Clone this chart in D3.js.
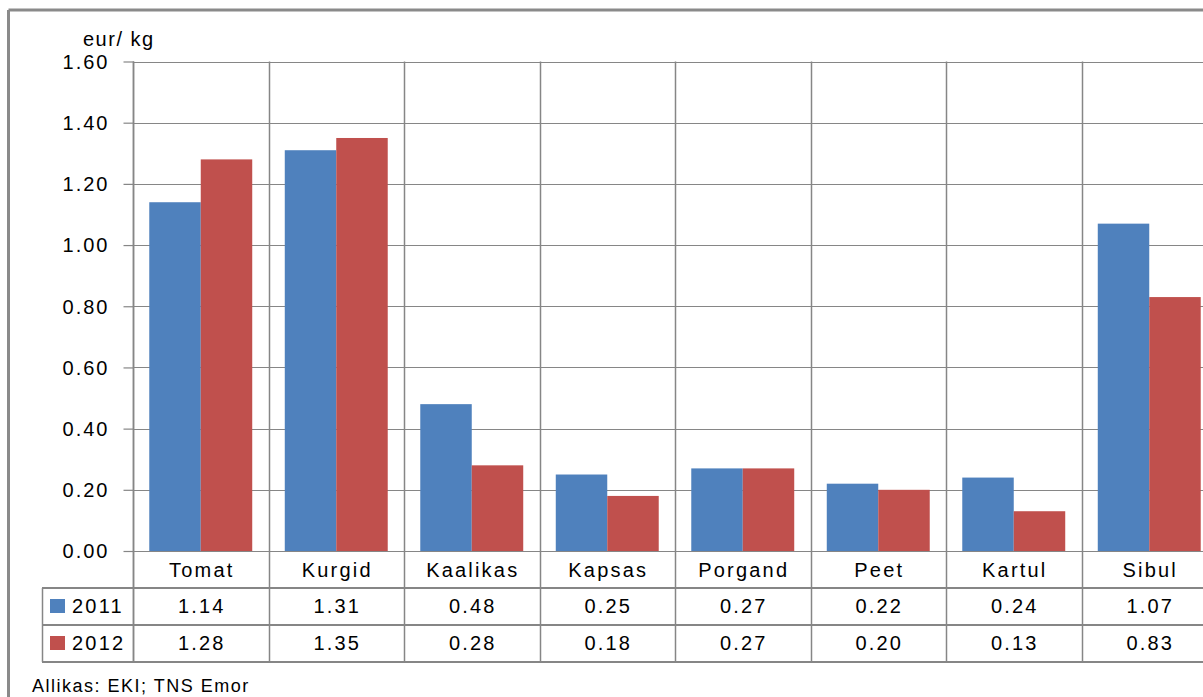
<!DOCTYPE html>
<html>
<head>
<meta charset="utf-8">
<script src="https://cdn.jsdelivr.net/npm/d3@7"></script>
<style>
  html, body { margin: 0; padding: 0; background: #fff; overflow: hidden; }
  text { font-family: "Liberation Sans", Arial, sans-serif; fill: #000; }
</style>
</head>
<body>
<svg id="chart" width="1203" height="697"></svg>
<script>
const categories = ["Tomat", "Kurgid", "Kaalikas", "Kapsas", "Porgand", "Peet", "Kartul", "Sibul"];
const years = ["2011", "2012"];
const values2011 = [1.14, 1.31, 0.48, 0.25, 0.27, 0.22, 0.24, 1.07];
const values2012 = [1.28, 1.35, 0.28, 0.18, 0.27, 0.20, 0.13, 0.83];
const yTicks = [0, 0.2, 0.4, 0.6, 0.8, 1.0, 1.2, 1.4, 1.6];
const unitLabel = "eur/ kg";
const sourceLabel = "Allikas: EKI; TNS Emor";
const colors = ["#4F81BD", "#C0504D"];

const series = [values2011, values2012];
const grid = "#868686";

const svg = d3.select("#chart");

// outer frame
svg.append("line").attr("x1", 8.5).attr("x2", 1203).attr("y1", 10).attr("y2", 10)
  .attr("stroke", "#8a8a8a").attr("stroke-width", 3);
svg.append("line").attr("x1", 8.5).attr("x2", 8.5).attr("y1", 10).attr("y2", 697)
  .attr("stroke", "#8a8a8a").attr("stroke-width", 3);

const plotLeft = 133, plotTop = 61.5, plotBottom = 551;
const catW = 135.5;
const x = d3.scaleBand().domain(categories).range([plotLeft, plotLeft + catW * categories.length]).padding(0);
const xi = d3.scaleBand().domain(years).range([0, x.bandwidth()]).paddingInner(0).paddingOuter(0.316);
const y = d3.scaleLinear().domain([0, 1.6]).range([plotBottom, plotTop]);

const tableRows = [551, 588, 625, 662];
const tableLeft = 42;
const rightEdge = plotLeft + catW * categories.length;

// horizontal gridlines
svg.append("g").selectAll("line").data(yTicks).join("line")
  .attr("x1", plotLeft).attr("x2", rightEdge)
  .attr("y1", d => Math.round(y(d)) + 0.5).attr("y2", d => Math.round(y(d)) + 0.5)
  .attr("stroke", grid).attr("stroke-width", 1.2);

// vertical gridlines at category boundaries (plot + table)
const bounds = categories.map(c => x(c)).concat([rightEdge]);
svg.append("g").selectAll("line").data(bounds).join("line")
  .attr("x1", d => Math.round(d) + 0.5).attr("x2", d => Math.round(d) + 0.5)
  .attr("y1", plotTop).attr("y2", tableRows[3])
  .attr("stroke", grid).attr("stroke-width", 1.5);

// bars
const groups = svg.append("g").selectAll("g").data(categories).join("g")
  .attr("transform", d => `translate(${x(d)},0)`);
groups.selectAll("rect")
  .data((c, i) => years.map((yr, k) => ({ yr, k, v: series[k][i] })))
  .join("rect")
  .attr("x", d => xi(d.yr))
  .attr("width", xi.bandwidth())
  .attr("y", d => y(d.v))
  .attr("height", d => y(0) - y(d.v))
  .attr("fill", d => colors[d.k]);

// y axis
const yAxis = d3.axisLeft(y).tickValues(yTicks).tickFormat(d3.format(".2f")).tickSize(10).tickPadding(14);
const ya = svg.append("g").attr("transform", `translate(${plotLeft + 0.5},0)`).call(yAxis);
ya.select(".domain").attr("stroke", grid).attr("stroke-width", 1.5).attr("d", `M0,${plotTop}V${tableRows[3]}`);
ya.selectAll(".tick line").attr("stroke", grid).attr("stroke-width", 1.2);
ya.selectAll(".tick text").attr("font-size", 20).attr("letter-spacing", "2px")
  .attr("font-family", "Liberation Sans, Arial, sans-serif").attr("fill", "#000").attr("dy", "0.34em");

svg.append("text").attr("x", 83).attr("y", 46).attr("font-size", 20).attr("letter-spacing", "1.5px").text(unitLabel);

// table lines
[tableRows[1], tableRows[2], tableRows[3]].forEach(ry => {
  svg.append("line").attr("x1", tableLeft).attr("x2", rightEdge)
    .attr("y1", ry).attr("y2", ry).attr("stroke", grid).attr("stroke-width", 2);
});
svg.append("line").attr("x1", tableLeft + 0.5).attr("x2", tableLeft + 0.5)
  .attr("y1", tableRows[1]).attr("y2", tableRows[3]).attr("stroke", grid).attr("stroke-width", 1.5);

// category labels
svg.append("g").selectAll("text").data(categories).join("text")
  .attr("x", d => x(d) + x.bandwidth() / 2 + 1).attr("y", 577)
  .attr("text-anchor", "middle").attr("font-size", 20).attr("letter-spacing", "2.2px")
  .text(d => d);

// value rows
const fmt = d3.format(".2f");
series.forEach((vals, k) => {
  const by = [613, 650][k];
  svg.append("g").selectAll("text").data(vals).join("text")
    .attr("x", (d, i) => x(categories[i]) + x.bandwidth() / 2 + 1).attr("y", by)
    .attr("text-anchor", "middle").attr("font-size", 20).attr("letter-spacing", "2.2px")
    .text(d => fmt(d));
  svg.append("rect").attr("x", 50).attr("y", by - 14).attr("width", 15).attr("height", 14).attr("fill", colors[k]);
  svg.append("text").attr("x", 72).attr("y", by).attr("font-size", 20).attr("letter-spacing", "2.2px").text(years[k]);
});

svg.append("text").attr("x", 32).attr("y", 692).attr("font-size", 18).attr("letter-spacing", "1.5px").text(sourceLabel);
</script>
</body>
</html>
